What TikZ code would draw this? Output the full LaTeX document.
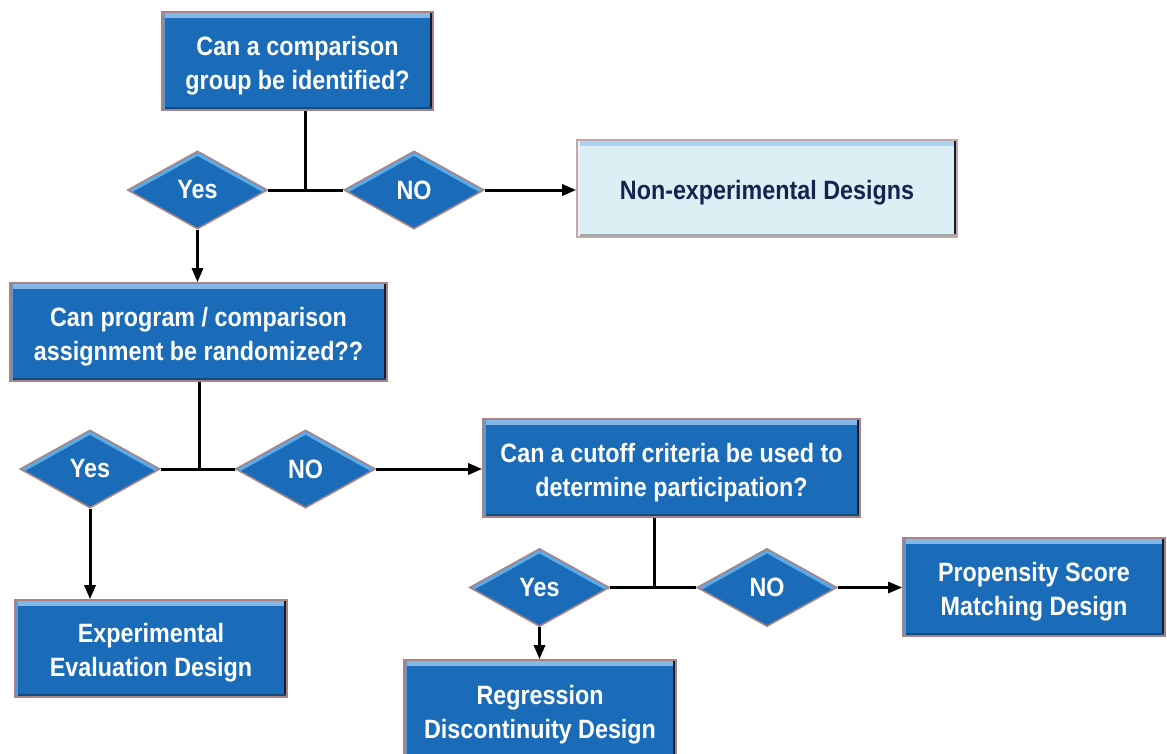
\documentclass[tikz,border=0pt]{standalone}
\usepackage{fontspec}
\usetikzlibrary{shapes.geometric,arrows.meta}
\newfontfamily\lblfont{Liberation Sans}[FakeStretch=0.88]
\newcommand\toppad{\rule{0pt}{28pt}}
\definecolor{boxblue}{HTML}{1B6CB8}
\definecolor{hiblue}{HTML}{5AAAE8}
\definecolor{rimcol}{HTML}{A88484}
\definecolor{shadecol}{HTML}{1A1A26}
\definecolor{paleblue}{HTML}{DCEFF5}
\definecolor{navytext}{HTML}{14244E}
\tikzset{
  lbl/.style={font=\lblfont\bfseries\fontsize{26.5}{34}\selectfont},
  bevelrect/.style={
    path picture={
      \draw[line width=12pt,hiblue!60!white,opacity=0.8]
        (path picture bounding box.north west) -- (path picture bounding box.north east);
      \draw[line width=7pt,shadecol]
        (path picture bounding box.north east) -- (path picture bounding box.south east);
      \draw[line width=6pt,#1!70!black]
        (path picture bounding box.south west) -- (path picture bounding box.south east);
      \draw[line width=6pt,#1!70!white]
        (path picture bounding box.north west) -- (path picture bounding box.south west);
    }},
  bluebox/.style={lbl, rectangle, fill=boxblue, draw=rimcol, line width=1.6pt,
    text=white, align=center, inner sep=0pt, bevelrect=boxblue},
  palebox/.style={lbl, rectangle, fill=paleblue, draw=rimcol!70!white, line width=1.6pt,
    text=navytext, align=center, inner sep=0pt, bevelrect=paleblue},
  choice/.style={lbl, diamond, fill=boxblue, draw=rimcol, line width=1.6pt,
    text=white, inner sep=0pt, minimum width=140pt, minimum height=78pt,
    path picture={
      \draw[line width=8pt,hiblue]
        (path picture bounding box.west) -- (path picture bounding box.north)
        -- (path picture bounding box.east);
    }},
  link/.style={line width=3pt, black},
  arr/.style={link, -{Triangle[length=14pt,width=11pt]}},
}
\begin{document}
\begin{tikzpicture}[x=1pt,y=-1pt]
\useasboundingbox (0,0) rectangle (1167,753);
\clip (0,0) rectangle (1167,753);

% question and outcome boxes
\node[bluebox, minimum width=271pt, minimum height=98pt] (q1) at (297.5,61)
  {\toppad Can a comparison\\group be identified?};
\node[palebox, minimum width=380pt, minimum height=97pt] (nonexp) at (767,188.5)
  {\toppad Non-experimental Designs};
\node[bluebox, minimum width=377pt, minimum height=98pt] (q2) at (198.5,332)
  {\toppad Can program / comparison\\assignment be randomized??};
\node[bluebox, minimum width=377pt, minimum height=98pt] (q3) at (671.5,468)
  {\toppad Can a cutoff criteria be used to\\determine participation?};
\node[bluebox, minimum width=272pt, minimum height=97pt] (expd) at (151,648.5)
  {\toppad Experimental\\Evaluation Design};
\node[bluebox, minimum width=272pt, minimum height=100pt] (rdd) at (540,710)
  {\toppad Regression\\Discontinuity Design};
\node[bluebox, minimum width=262pt, minimum height=98pt] (psm) at (1034,587)
  {\toppad Propensity Score\\Matching Design};

% yes / no decisions
\node[choice] (yes1) at (197.5,190) {Yes};
\node[choice] (no1)  at (414,190) {NO};
\node[choice] (yes2) at (90,469) {Yes};
\node[choice] (no2)  at (305.5,469) {NO};
\node[choice] (yes3) at (539.5,587.5) {Yes};
\node[choice] (no3)  at (767,587.5) {NO};

% junction points under each question
\coordinate (j1) at (305,190);
\coordinate (j2) at (199,469);
\coordinate (j3) at (654,587.5);

% connectors
\draw[link] (q1.south -| j1) -- (j1);
\draw[link] (yes1.east) -- (no1.west);
\draw[arr] (no1.east) -- (nonexp.west |- no1.east);
\draw[arr] (yes1.south) -- (yes1.south |- q2.north);

\draw[link] (q2.south -| j2) -- (j2);
\draw[link] (yes2.east) -- (no2.west);
\draw[arr] (no2.east) -- (q3.west |- no2.east);
\draw[arr] (yes2.south) -- (yes2.south |- expd.north);

\draw[link] (q3.south -| j3) -- (j3);
\draw[link] (yes3.east) -- (no3.west);
\draw[arr] (no3.east) -- (psm.west |- no3.east);
\draw[arr] (yes3.south) -- (yes3.south |- rdd.north);
\end{tikzpicture}
\end{document}
